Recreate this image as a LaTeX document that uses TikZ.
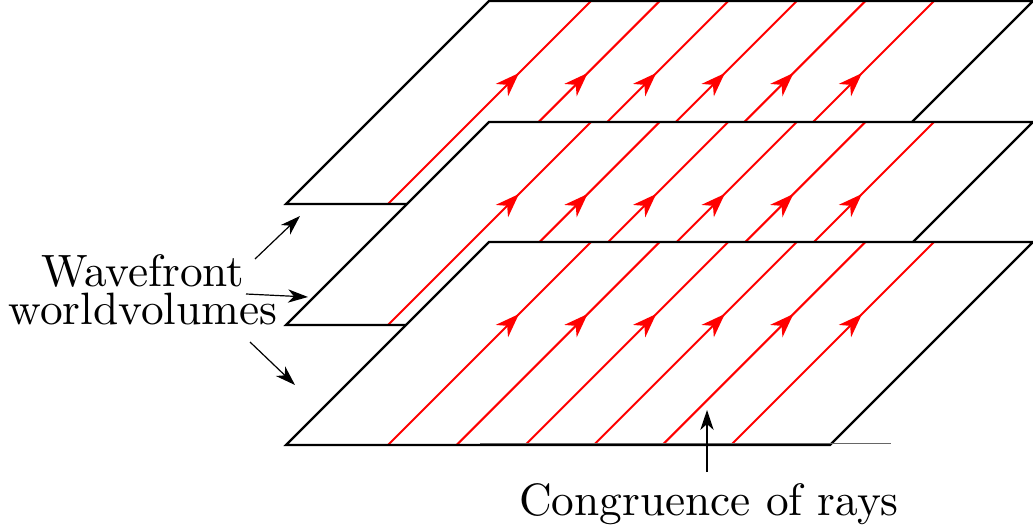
\documentclass[tikz,border=0pt]{standalone}
\usetikzlibrary{arrows.meta,decorations.markings}
\font\wvbigfont="[lmroman10-regular]:+tlig;" at 34pt
\begin{document}
\begin{tikzpicture}[x=0.75pt,y=-0.75pt,
  planefill/.style={fill=white},
  planeedge/.style={draw=black, line width=1.7pt, line join=miter},
  ray/.style={red, line width=1.5pt, postaction={decorate},
    decoration={markings, mark=at position 0.645 with {\arrow{Stealth[length=18pt,width=13pt,inset=5.5pt]}}}},
  pointer/.style={black, line width=0.9pt, -{Stealth[length=15pt,width=10pt,inset=4.5pt]}},
  lbl/.style={font=\wvbigfont, inner sep=0pt}]
\useasboundingbox (0,0) rectangle (1033,531);
\foreach \yb/\n in {204/top, 325/mid, 445/bot}{
  \path[planefill] (286,\yb) coordinate (\n-bl) -- (830,\yb) coordinate (\n-br)
     -- (1033,\yb-203) coordinate (\n-tr) -- (489,\yb-203) coordinate (\n-tl) -- cycle;
  \foreach \k in {0,...,5}{
    \coordinate (\n-s\k) at (388+68.6*\k,\yb);
    \coordinate (\n-e\k) at (591+68.6*\k,\yb-203);
    \draw[ray] (\n-s\k) -- (\n-e\k);
  }
  \draw[planeedge] (\n-bl) -- (\n-br) -- (\n-tr) -- (\n-tl) -- cycle;
}
% thin base line
\coordinate (b1) at (480,443);
\coordinate (b2) at (891,443);
\draw[black!60, line width=0.6pt] (b1) -- (b2);
% labels
\node[lbl, anchor=base] (wv1) at (143,287) {Wavefront};
\node[lbl, anchor=base] (wv2) at (143,325) {worldvolumes};
\node[lbl, anchor=base] (cr) at (709,515) {Congruence of rays};
% pointers
\coordinate (a1s) at (255,259); \coordinate (a1e) at (300,216);
\coordinate (a2s) at (246,294); \coordinate (a2e) at (308,297);
\coordinate (a3s) at (250,342); \coordinate (a3e) at (295,385);
\coordinate (a4s) at (707,472); \coordinate (a4e) at (707,410);
\draw[pointer] (a1s) -- (a1e);
\draw[pointer] (a2s) -- (a2e);
\draw[pointer] (a3s) -- (a3e);
\draw[pointer] (a4s) -- (a4e);
\end{tikzpicture}
\end{document}
